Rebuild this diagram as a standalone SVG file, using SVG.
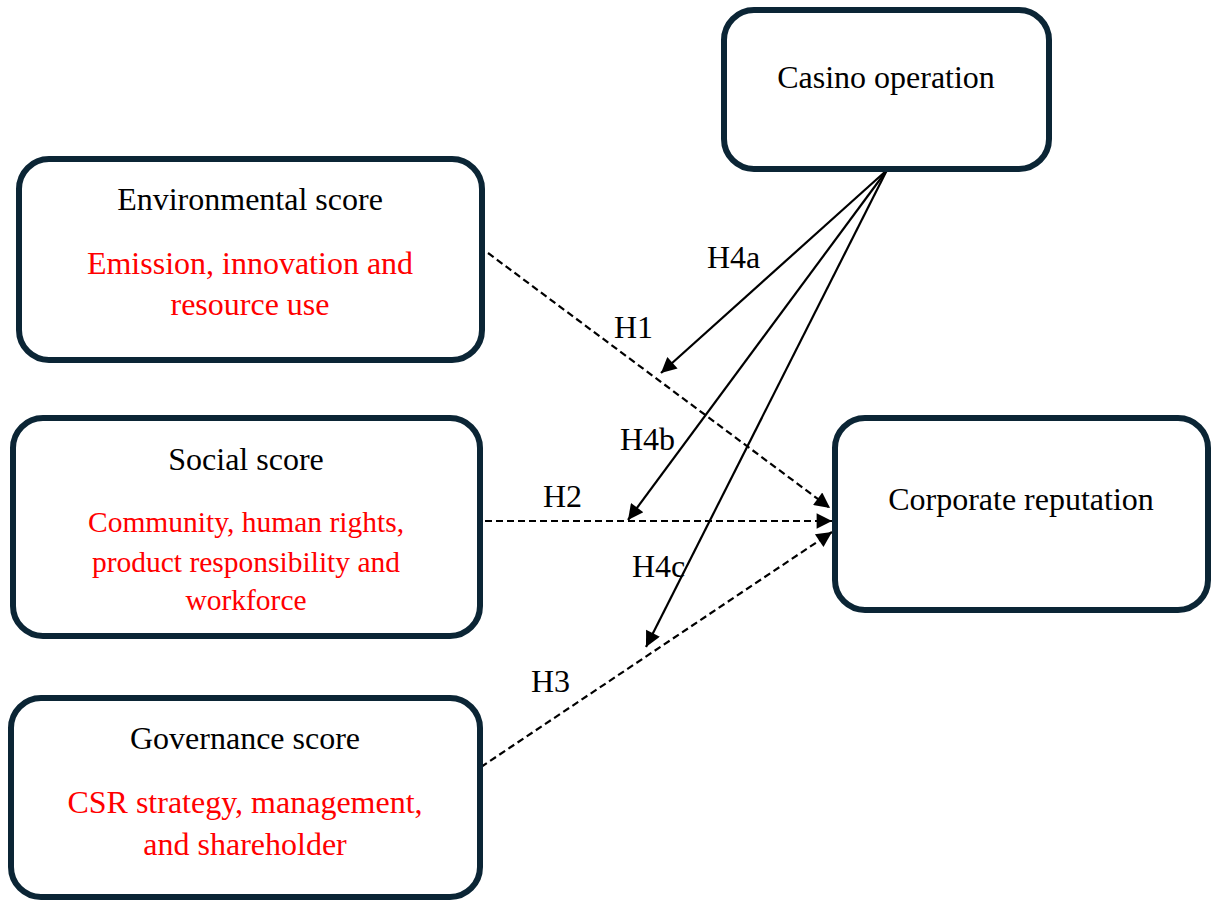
<svg xmlns="http://www.w3.org/2000/svg" width="1212" height="901" viewBox="0 0 1212 901">
<style>
.box{fill:#fff;stroke:#0b2535;stroke-width:6}
.t{font-family:"Liberation Serif","Times New Roman",serif;font-size:32px;text-anchor:middle;fill:#000}
.r{fill:#ff0000}
.sm{font-size:29.5px}
.lbl{font-family:"Liberation Serif","Times New Roman",serif;font-size:32px;fill:#000}
.solid{stroke:#000;stroke-width:2.2;fill:none}
.dash{stroke:#000;stroke-width:2.2;fill:none;stroke-dasharray:7 4}
</style>
<defs>
<marker id="ah" viewBox="0 0 10 10" refX="10" refY="5" markerWidth="8" markerHeight="7" markerUnits="strokeWidth" orient="auto">
<path d="M0,0 L10,5 L0,10 z" fill="#000"/>
</marker>
</defs>
<g id="connectors">
<line class="solid" x1="887" y1="170" x2="661" y2="373" marker-end="url(#ah)"/>
<line class="solid" x1="887" y1="170" x2="628" y2="520" marker-end="url(#ah)"/>
<line class="solid" x1="887" y1="170" x2="646" y2="647" marker-end="url(#ah)"/>
<line class="dash" x1="488" y1="253" x2="830" y2="508" marker-end="url(#ah)"/>
<line class="dash" x1="485" y1="521" x2="832" y2="521" marker-end="url(#ah)"/>
<line class="dash" x1="481" y1="767" x2="832" y2="532" marker-end="url(#ah)"/>
<text class="lbl" x="707" y="268">H4a</text>
<text class="lbl" x="614" y="338">H1</text>
<text class="lbl" x="620" y="450">H4b</text>
<text class="lbl" x="543" y="507">H2</text>
<text class="lbl" x="632" y="577">H4c</text>
<text class="lbl" x="531" y="692">H3</text>
</g>
<g id="casino">
<rect class="box" x="724" y="10" width="325" height="159" rx="30"/>
<text class="t" x="886" y="88">Casino operation</text>
</g>
<g id="environmental">
<rect class="box" x="19" y="159" width="463" height="201" rx="30"/>
<text class="t" x="250" y="210">Environmental score</text>
<text class="t r" x="250" y="274">Emission, innovation and</text>
<text class="t r" x="250" y="315">resource use</text>
</g>
<g id="social">
<rect class="box" x="13" y="418" width="467" height="218" rx="30"/>
<text class="t" x="246" y="470">Social score</text>
<text class="t r sm" x="246" y="532">Community, human rights,</text>
<text class="t r sm" x="246" y="572">product responsibility and</text>
<text class="t r sm" x="246" y="610">workforce</text>
</g>
<g id="governance">
<rect class="box" x="11" y="698" width="469" height="199" rx="30"/>
<text class="t" x="245" y="749">Governance score</text>
<text class="t r" x="245" y="813">CSR strategy, management,</text>
<text class="t r" x="245" y="855">and shareholder</text>
</g>
<g id="reputation">
<rect class="box" x="835" y="418" width="373" height="192" rx="30"/>
<text class="t" x="1021" y="510">Corporate reputation</text>
</g>
</svg>
